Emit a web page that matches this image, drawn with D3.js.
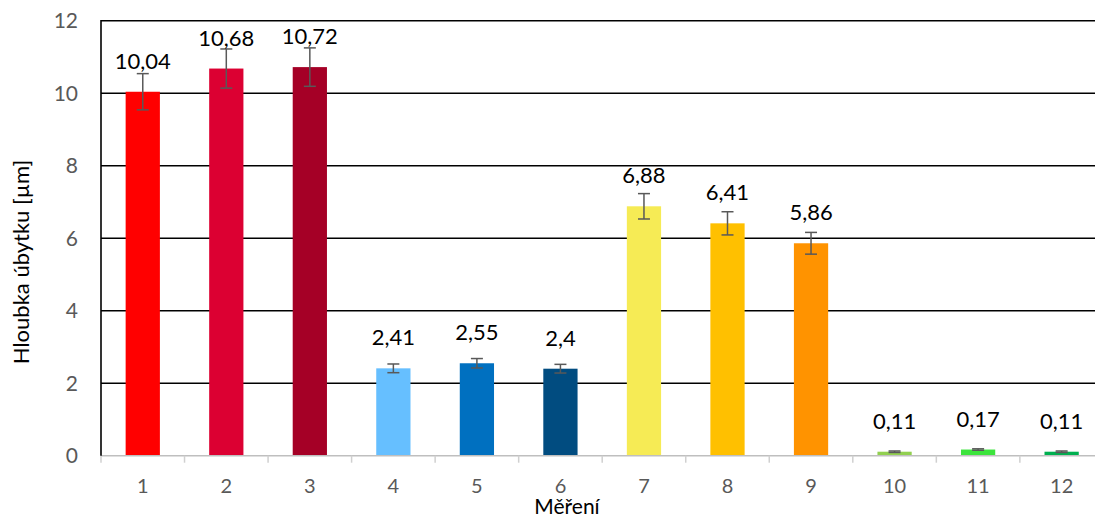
<!DOCTYPE html>
<html><head><meta charset="utf-8">
<script src="https://cdn.jsdelivr.net/npm/d3@7"></script>
<style>body{margin:0;background:#fff}svg{display:block}text{font-family:Lato,"Open Sans",sans-serif}</style>
</head><body><svg id="c" width="1095" height="519"></svg>
<script>
const categories = ["1","2","3","4","5","6","7","8","9","10","11","12"];
const values = [10.04,10.68,10.72,2.41,2.55,2.4,6.88,6.41,5.86,0.11,0.17,0.11];
const errors = [0.50,0.54,0.53,0.12,0.13,0.12,0.35,0.32,0.30,0.02,0.02,0.02];
const labels = ["10,04","10,68","10,72","2,41","2,55","2,4","6,88","6,41","5,86","0,11","0,17","0,11"];
const colors = ["#FF0000","#DC0032","#A50026","#66BFFF","#0070C0","#014C80","#F6EB55","#FFC000","#FF9300","#92D050","#3CE43C","#00B050"];
const yTicks = [0,2,4,6,8,10,12];

const svg = d3.select("#c");
const L = 101, R = 1103.4, T = 20.7, B = 455.7;
const x = d3.scaleBand().domain(categories).range([L, R]).paddingInner(0.59).paddingOuter(0.295);
const xb = d3.scaleBand().domain(categories).range([L, R]);
const y = d3.scaleLinear().domain([0, 12]).range([B, T]);

// gridlines
svg.append("g").selectAll("line").data(yTicks.filter(d => d > 0)).join("line")
  .attr("x1", L).attr("x2", R).attr("y1", d => y(d)).attr("y2", d => y(d))
  .attr("stroke", "#000").attr("stroke-width", 1.6);

// y axis labels
svg.append("g").selectAll("text").data(yTicks).join("text")
  .attr("x", 78).attr("y", d => y(d)).attr("dy", "0.36em").attr("text-anchor", "end")
  .attr("fill", "#595959").attr("font-size", 21).text(d => d);

// bars
svg.append("g").selectAll("rect").data(values).join("rect")
  .attr("x", (d, i) => x(categories[i])).attr("width", x.bandwidth())
  .attr("y", d => y(d)).attr("height", d => B - y(d))
  .attr("fill", (d, i) => colors[i]);

// x axis line & ticks
svg.append("line").attr("x1", L).attr("x2", R).attr("y1", B).attr("y2", B)
  .attr("stroke", "#BFBFBF").attr("stroke-width", 1.5);
svg.append("g").selectAll("line").data(categories.concat(["end"])).join("line")
  .attr("x1", (d, i) => L + i * xb.step()).attr("x2", (d, i) => L + i * xb.step())
  .attr("y1", B).attr("y2", B + 7).attr("stroke", "#D0D0D0").attr("stroke-width", 1.5);

// left axis line
svg.append("line").attr("x1", L).attr("x2", L).attr("y1", T - 0.8).attr("y2", B)
  .attr("stroke", "#000").attr("stroke-width", 1.6);

// error bars
const eg = svg.append("g").attr("stroke", "#595959").attr("stroke-width", 1.5);
values.forEach((v, i) => {
  const cx = x(categories[i]) + x.bandwidth() / 2;
  const y1 = y(v + errors[i]), y2 = y(v - errors[i]);
  eg.append("line").attr("x1", cx).attr("x2", cx).attr("y1", y1).attr("y2", y2);
  eg.append("line").attr("x1", cx - 6).attr("x2", cx + 6).attr("y1", y1).attr("y2", y1);
  eg.append("line").attr("x1", cx - 6).attr("x2", cx + 6).attr("y1", y2).attr("y2", y2);
});

// data labels
svg.append("g").selectAll("text").data(values).join("text")
  .attr("x", (d, i) => x(categories[i]) + x.bandwidth() / 2)
  .attr("y", d => y(d) - 23).attr("text-anchor", "middle")
  .attr("fill", "#000").attr("font-size", 22).text((d, i) => labels[i]);

// x tick labels
svg.append("g").selectAll("text").data(categories).join("text")
  .attr("x", d => xb(d) + xb.bandwidth() / 2).attr("y", 493)
  .attr("text-anchor", "middle").attr("fill", "#595959").attr("font-size", 20).text(d => d);

// axis titles
svg.append("text").attr("x", 567).attr("y", 514).attr("text-anchor", "middle")
  .attr("font-size", 21).attr("fill", "#000").text("Měření");
svg.append("text").attr("transform", "translate(29,262) rotate(-90)").attr("text-anchor", "middle")
  .attr("font-size", 22).attr("fill", "#000").text("Hloubka úbytku [µm]");
</script></body></html>
